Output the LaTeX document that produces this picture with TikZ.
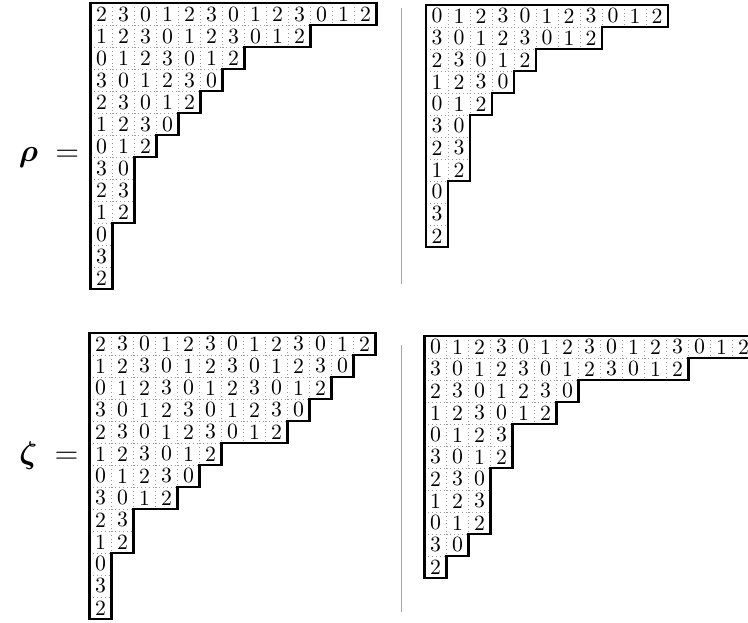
\documentclass[tikz,border=0pt]{standalone}
\usepackage{amsmath,bm}
\tikzset{
  cellgrid/.style={draw=gray!80, line width=0.45pt, dash pattern=on 0.45pt off 1.3pt},
  rim/.style={draw=black, line width=0.95pt, line join=miter},
  digit/.style={inner sep=0pt, font=\normalsize},
  lbl/.style={inner sep=0pt, anchor=base, font=\Large},
  sep/.style={draw=gray!70, line width=0.42pt}
}
% #1 name, #2 x0, #3 y0, #4 offset, #5 row lengths, #6 number of rows
\newcommand{\youngdiag}[6]{%
  \begin{scope}[shift={(#2,#3)}]
    \foreach \L [count=\r] in {#5} {
      \foreach \c in {1,...,\L} {
        \pgfmathtruncatemacro\v{mod(#4+\c-\r+40,4)}
        \ifnum\c>1 \draw[cellgrid] ({(\c-1)*22},{(\r-1)*22}) -- ({(\c-1)*22},{\r*22});\fi
        \ifnum\r>1 \draw[cellgrid] ({(\c-1)*22},{(\r-1)*22}) -- ({\c*22},{(\r-1)*22});\fi
        \node[digit] (#1-\r-\c) at ({(\c-0.5)*22},{(\r-0.5)*22}) {\v};
      }
    }
    \draw[rim] (0,0) foreach \L [count=\i] in {#5} { -- ({\L*22},{(\i-1)*22}) -- ({\L*22},{\i*22}) } -- (0,{#6*22}) -- cycle;
  \end{scope}}
\begin{document}
\begin{tikzpicture}[x=0.46pt,y=-0.46pt]
\useasboundingbox (0,0) rectangle (748,623);
\youngdiag{tl}{90.5}{3.3}{2}{13,10,7,6,5,4,3,2,2,2,1,1,1}{13}
\youngdiag{tr}{426}{5}{0}{11,8,5,4,3,2,2,2,1,1,1}{11}
\youngdiag{bl}{89.5}{333}{2}{13,12,11,10,9,6,5,4,2,2,1,1,1}{13}
\youngdiag{br}{424.5}{336}{0}{15,12,7,6,4,4,3,3,3,2,1}{11}
\coordinate (s1a) at (401,8);
\coordinate (s1b) at (401,284);
\coordinate (s2a) at (401,345);
\coordinate (s2b) at (401,612);
\draw[sep] (s1a) -- (s1b);
\draw[sep] (s2a) -- (s2b);
\node[lbl] (rho) at (49,162) {$\bm{\rho}\;=$};
\node[lbl] (zeta) at (49,464) {$\bm{\zeta}\;=$};
\end{tikzpicture}
\end{document}
